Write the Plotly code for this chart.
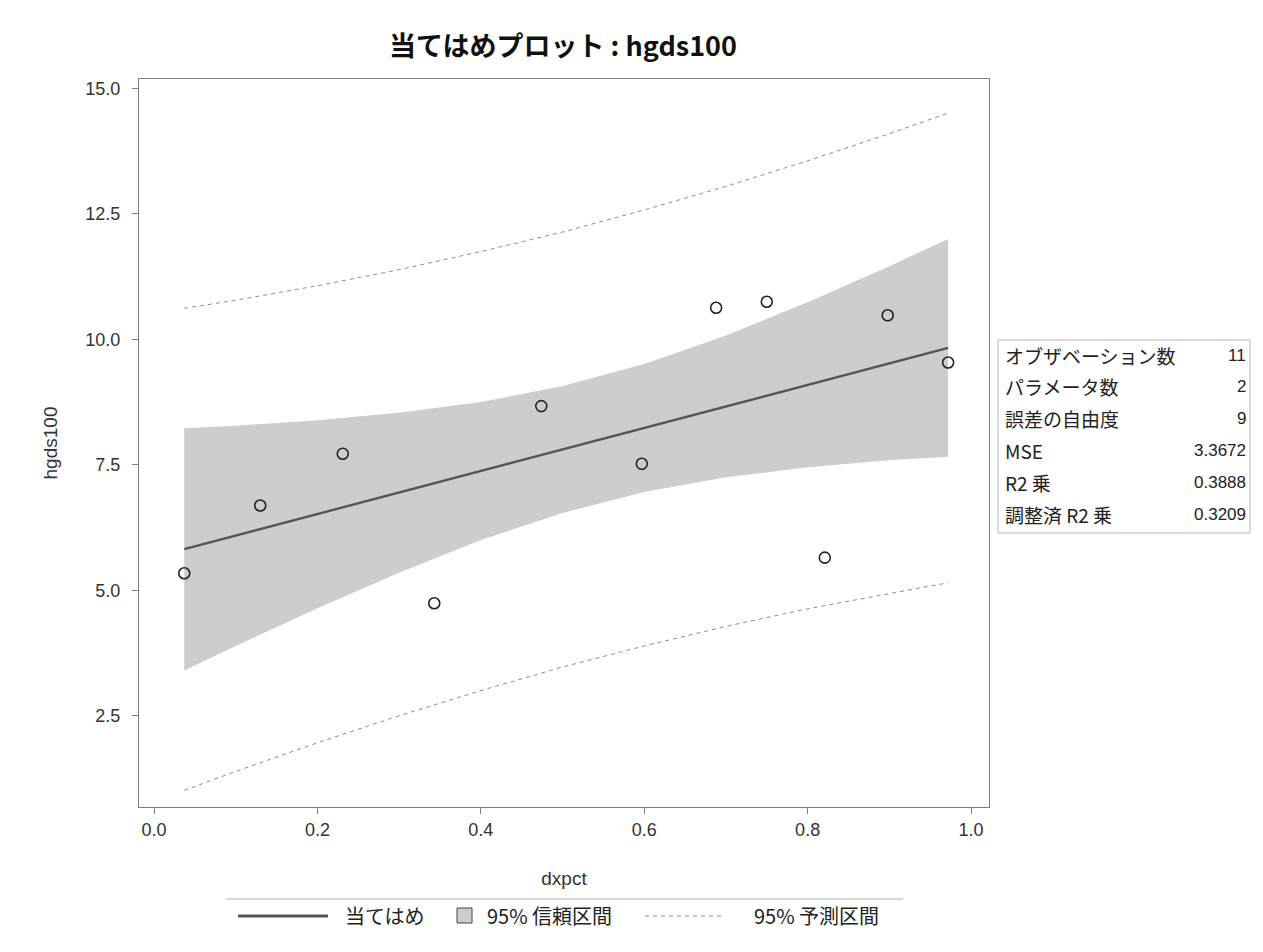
import plotly.graph_objects as go

# ---- data ----
obs_x = [0.037, 0.130, 0.231, 0.343, 0.474, 0.597, 0.688, 0.750, 0.821, 0.898, 0.972]
obs_y = [5.34, 6.69, 7.72, 4.74, 8.67, 7.52, 10.63, 10.75, 5.65, 10.48, 9.54]

band_x = [0.037, 0.1, 0.2, 0.3, 0.4, 0.5, 0.6, 0.7, 0.8, 0.9, 0.972]
fit_y = [5.82, 6.09, 6.52, 6.95, 7.37, 7.80, 8.23, 8.66, 9.09, 9.52, 9.83]
cl_lo = [3.40, 3.89, 4.64, 5.35, 6.00, 6.54, 6.96, 7.25, 7.45, 7.59, 7.66]
cl_hi = [8.23, 8.28, 8.39, 8.54, 8.75, 9.07, 9.51, 10.08, 10.74, 11.46, 12.00]
pi_lo = [1.01, 1.39, 1.96, 2.50, 3.00, 3.47, 3.89, 4.28, 4.63, 4.94, 5.15]
pi_hi = [10.62, 10.78, 11.07, 11.39, 11.75, 12.14, 12.58, 13.05, 13.56, 14.10, 14.51]

x_ticks = [0.0, 0.2, 0.4, 0.6, 0.8, 1.0]
y_ticks = [2.5, 5.0, 7.5, 10.0, 12.5, 15.0]

stat_labels = ["オブザベーション数", "パラメータ数", "誤差の自由度", "MSE", "R2 乗", "調整済 R2 乗"]
stat_values = ["11", "2", "9", "3.3672", "0.3888", "0.3209"]

legend_labels = ["当てはめ", "95% 信頼区間", "95% 予測区間"]
title_text = "当てはめプロット : hgds100"
x_title = "dxpct"
y_title = "hgds100"

# ---- layout geometry (screen pixels; page body has an 8px margin) ----
OFF = 8
W, H = 1263, 952
PX0, PX1, PY0, PY1 = 139, 989, 79, 807       # plot area on screen
L, T = PX0 - OFF, PY0 - OFF
PW, PH = PX1 - PX0, PY1 - PY0
R, B = W - L - PW, H - T - PH

def px(xs):
    return (xs - PX0) / PW

def py(ys):
    return (PY1 - ys) / PH

FONT = "Liberation Sans, Noto Sans CJK JP, sans-serif"
JFONT = "Noto Sans CJK JP, Liberation Sans, sans-serif"

BAND = "#cdcdcd"
FITC = "#555555"
PIC = "#8c8c8c"

fig = go.Figure()

fig.add_trace(go.Scatter(
    x=band_x + band_x[::-1], y=cl_hi + cl_lo[::-1],
    fill="toself", fillcolor=BAND, line=dict(width=0, color=BAND),
    mode="lines", hoverinfo="skip", showlegend=False))

fig.add_trace(go.Scatter(
    x=band_x + [None] + band_x, y=pi_hi + [None] + pi_lo,
    mode="lines", line=dict(color=PIC, width=1, dash="4px,4px"),
    showlegend=False))

fig.add_trace(go.Scatter(
    x=band_x, y=fit_y, mode="lines",
    line=dict(color=FITC, width=2.4), showlegend=False))

fig.add_trace(go.Scatter(
    x=obs_x, y=obs_y, mode="markers",
    marker=dict(symbol="circle-open", size=11, color="#222222", line=dict(width=1.6)),
    showlegend=False))

axis_common = dict(
    showline=True, mirror=True, linecolor="#7f7f7f", linewidth=1,
    ticks="outside", ticklen=6, tickcolor="#7f7f7f",
    showgrid=False, zeroline=False,
    tickfont=dict(family=FONT, size=18, color="#333333"),
)

fig.update_layout(
    width=W, height=H, autosize=False,
    margin=dict(l=L, r=R, t=T, b=B),
    paper_bgcolor="white", plot_bgcolor="white",
    showlegend=False,
    title=dict(text=title_text, x=px(563), xref="paper", xanchor="center",
               y=1 - (47 - OFF) / H, yref="container", yanchor="middle",
               font=dict(family=JFONT, size=27, color="#111111", weight="bold")),
    xaxis=dict(range=[-0.0184, 1.022], tickvals=x_ticks,
               ticktext=[f"{v:.1f}" for v in x_ticks],
               title=dict(text=x_title, standoff=33,
                          font=dict(family=FONT, size=19, color="#333333")),
               **axis_common),
    yaxis=dict(range=[0.68, 15.19], tickvals=y_ticks,
               ticktext=[f"{v:.1f}" for v in y_ticks],
               ticklabelstandoff=8,
               title=dict(text=y_title, standoff=22,
                          font=dict(family=FONT, size=19, color="#333333")),
               **axis_common),
)

shapes = []
ann = []

# stats table
tb_x0, tb_x1, tb_y0, tb_y1 = 998, 1250, 340, 533
shapes.append(dict(type="rect", xref="paper", yref="paper",
                   x0=px(tb_x0), x1=px(tb_x1), y0=py(tb_y0), y1=py(tb_y1),
                   line=dict(color="#b5b5b5", width=1), fillcolor="white", layer="above"))
for i, (lab, val) in enumerate(zip(stat_labels, stat_values)):
    yc = 355 + i * 31.8
    ann.append(dict(text=lab, x=px(1003), y=py(yc), xref="paper", yref="paper",
                    xanchor="left", yanchor="middle", showarrow=False,
                    font=dict(family=JFONT, size=19, color="#222222")))
    ann.append(dict(text=val, x=px(1248), y=py(yc), xref="paper", yref="paper",
                    xanchor="right", yanchor="middle", showarrow=False,
                    font=dict(family=FONT, size=17, color="#222222")))

# legend (manual, SAS style)
ly = 916
LF = 20
shapes.append(dict(type="line", xref="paper", yref="paper",
                   x0=px(226), x1=px(903), y0=py(899), y1=py(899),
                   line=dict(color="#b0b0b0", width=1)))
shapes.append(dict(type="line", xref="paper", yref="paper",
                   x0=px(238), x1=px(328), y0=py(ly), y1=py(ly),
                   line=dict(color=FITC, width=3)))
ann.append(dict(text=legend_labels[0], x=px(343), y=py(ly), xref="paper", yref="paper",
                xanchor="left", yanchor="middle", showarrow=False,
                font=dict(family=JFONT, size=LF, color="#222222")))
shapes.append(dict(type="rect", xref="paper", yref="paper",
                   x0=px(457), x1=px(472), y0=py(ly + 7), y1=py(ly - 8),
                   line=dict(color="#444444", width=1), fillcolor=BAND))
ann.append(dict(text=legend_labels[1], x=px(485), y=py(ly), xref="paper", yref="paper",
                xanchor="left", yanchor="middle", showarrow=False,
                font=dict(family=JFONT, size=LF, color="#222222")))
shapes.append(dict(type="line", xref="paper", yref="paper",
                   x0=px(645), x1=px(724), y0=py(ly), y1=py(ly),
                   line=dict(color=PIC, width=1, dash="4px,4px")))
ann.append(dict(text=legend_labels[2], x=px(752), y=py(ly), xref="paper", yref="paper",
                xanchor="left", yanchor="middle", showarrow=False,
                font=dict(family=JFONT, size=LF, color="#222222")))

fig.update_layout(shapes=shapes, annotations=ann)

fig.write_html("out.html")
